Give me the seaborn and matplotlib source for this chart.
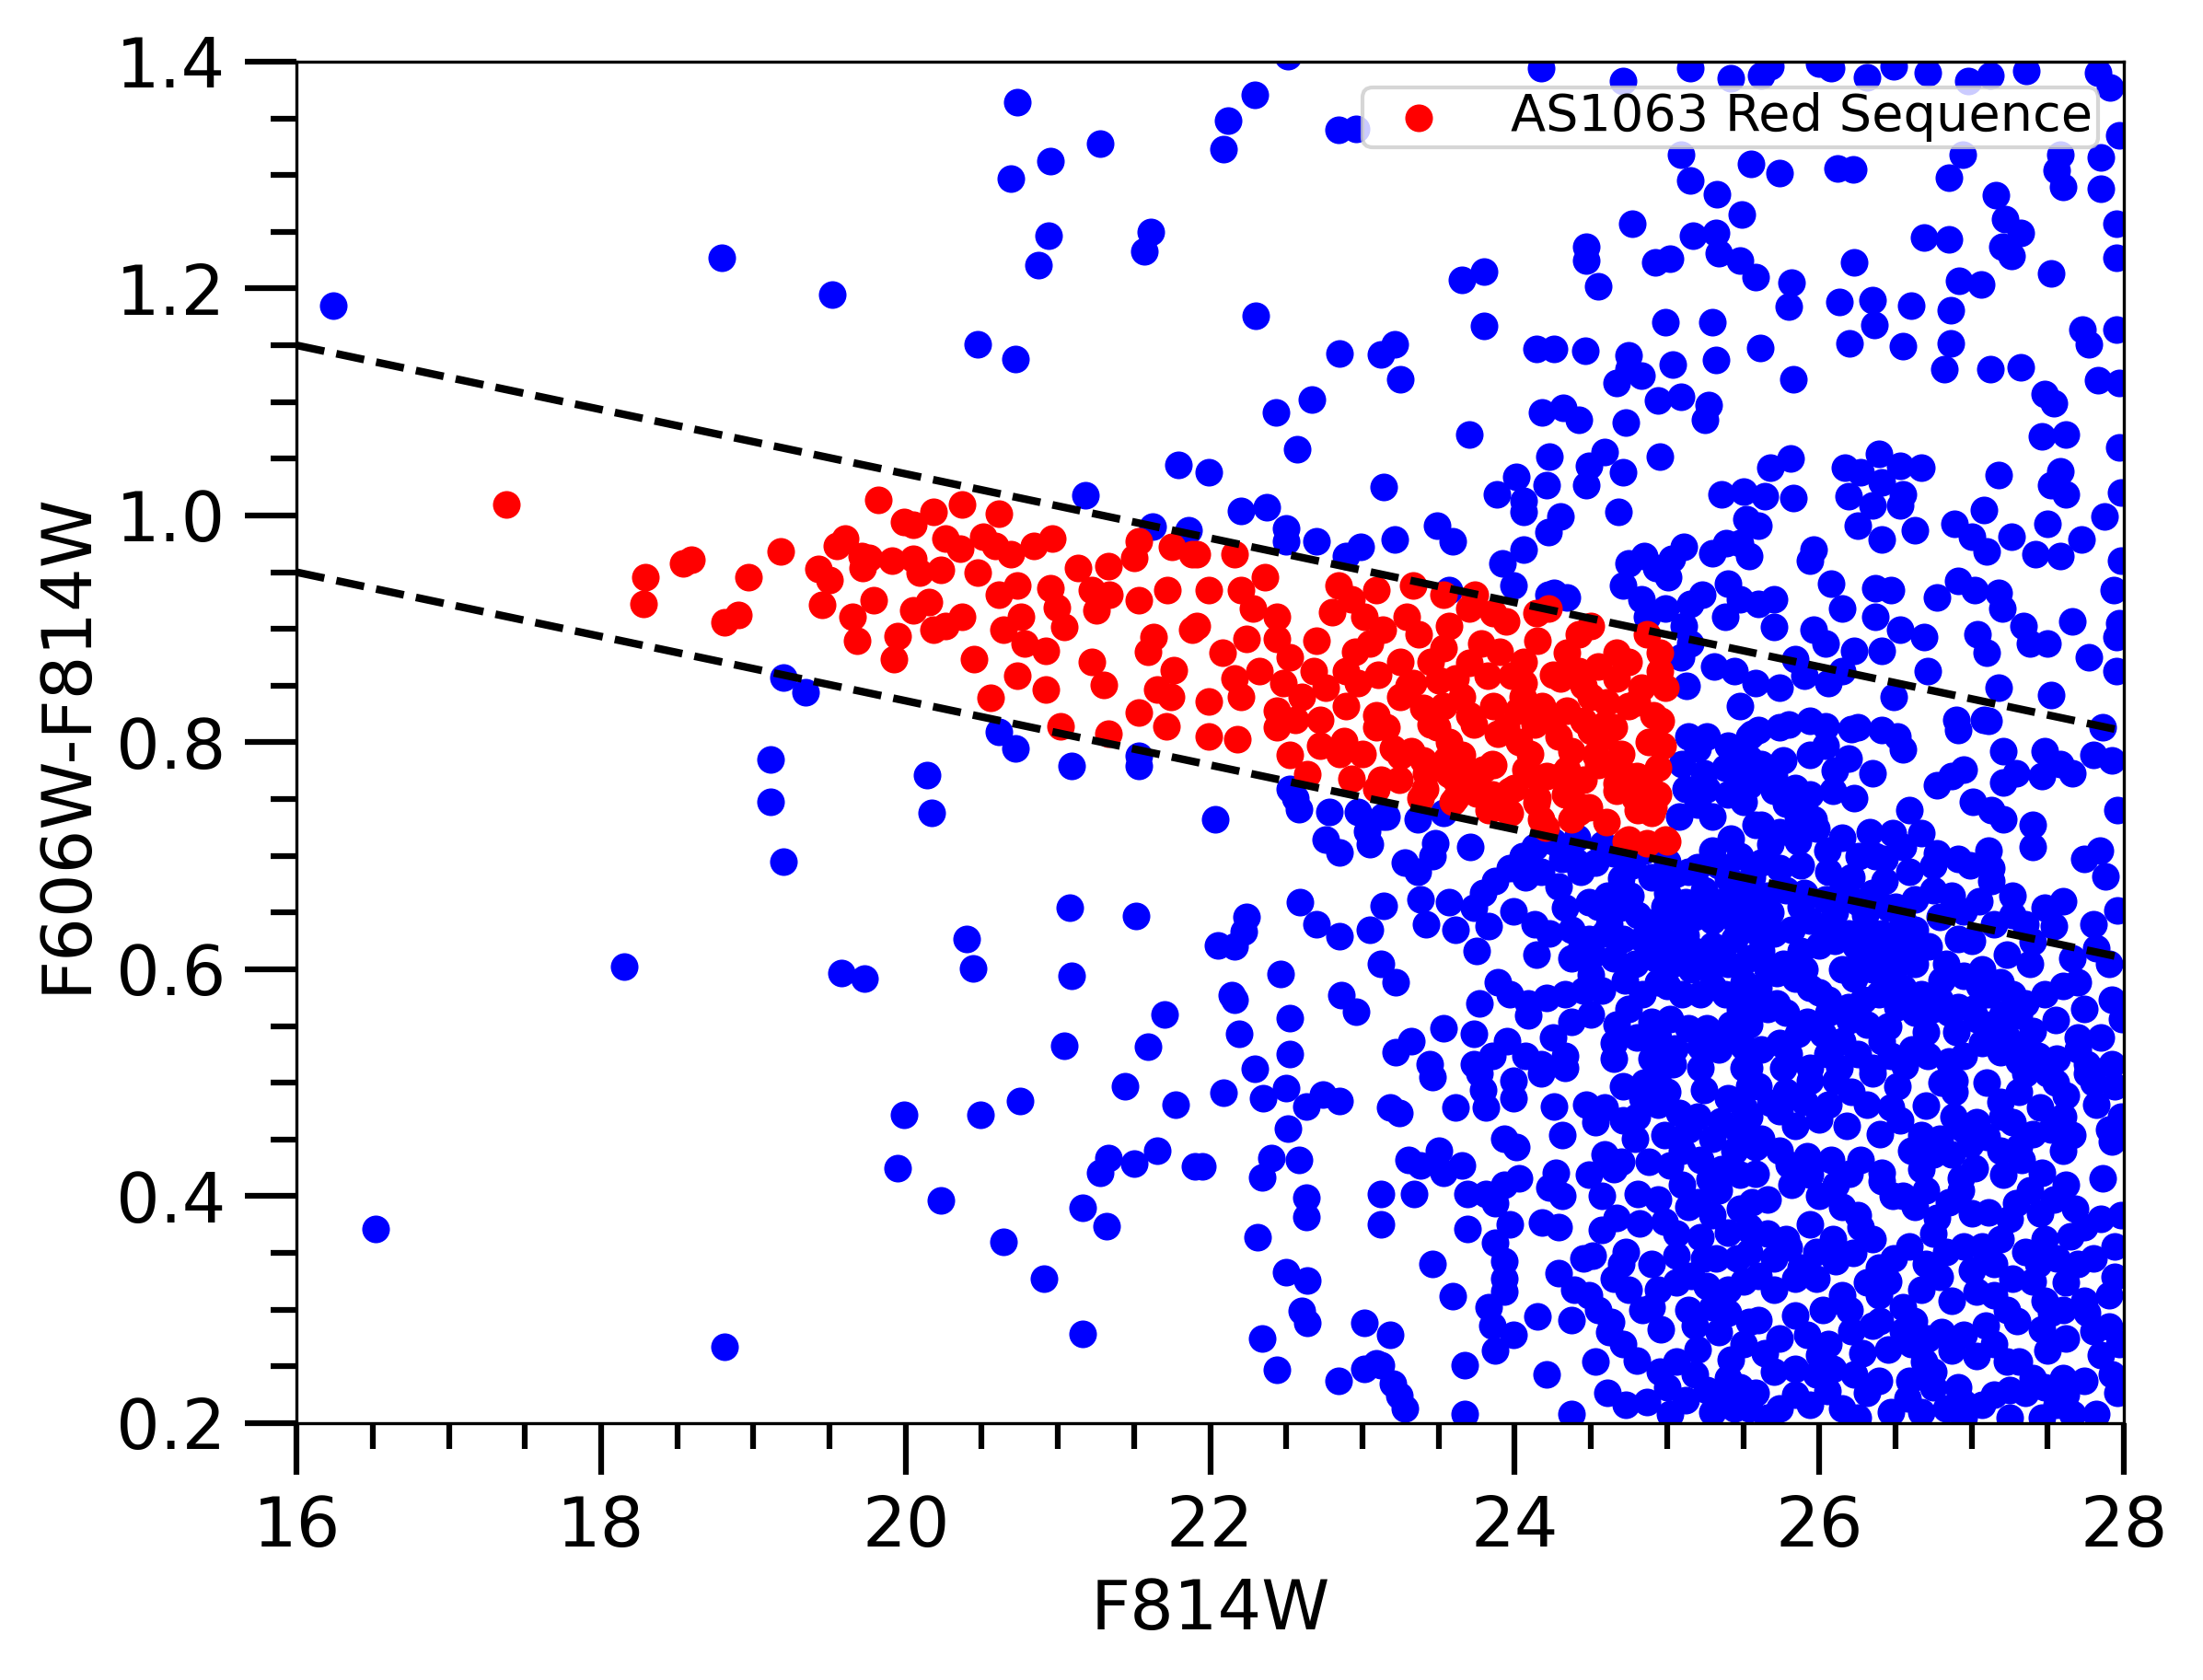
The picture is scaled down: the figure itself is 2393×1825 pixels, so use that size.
import matplotlib
matplotlib.use("Agg")
import matplotlib.pyplot as plt
import seaborn as sns
import pandas as pd
from matplotlib.ticker import MultipleLocator

# ---------------- data (F814W magnitude, F606W-F814W colour) ----------------
# field galaxies, bright / sparse part (F814W < 22)
blue_bright = [
    (16.24, 1.185), (16.52, 0.371), (18.15, 0.602), (18.79, 1.227), (18.81, 0.267),
    (19.20, 0.857), (19.34, 0.844), (19.11, 0.785), (19.11, 0.748), (19.20, 0.695),
    (19.52, 1.195), (19.58, 0.597), (19.73, 0.592), (20.14, 0.771), (20.17, 0.738),
    (20.40, 0.627), (20.44, 0.601), (19.99, 0.472), (20.49, 0.472), (19.95, 0.425),
    (20.23, 0.396), (20.75, 0.484), (20.64, 0.360), (20.91, 0.327), (21.16, 0.279),
    (21.08, 0.654), (21.09, 0.594), (21.04, 0.533), (21.51, 0.647), (21.70, 0.560),
    (21.59, 0.532), (21.44, 0.497), (21.77, 0.481), (21.33, 0.434), (21.28, 0.421),
    (21.50, 0.429), (21.65, 0.440), (21.16, 0.390), (21.32, 0.374), (21.90, 0.426),
    (20.61, 0.809), (20.72, 0.795), (21.09, 0.779), (21.53, 0.788), (21.53, 0.779),
    (20.73, 1.364), (21.28, 1.328), (20.95, 1.312), (20.69, 1.297), (20.94, 1.247),
    (21.61, 1.250), (21.57, 1.233), (20.87, 1.221), (20.47, 1.151), (20.72, 1.138),
    (21.79, 1.045), (21.18, 1.018), (21.62, 0.990), (21.86, 0.987),
]

# field galaxies, 21.9 < F814W < 23.1, below the red sequence
blue_mid = [
    (22.03, 0.732), (22.59, 0.659), (22.24, 0.646), (22.22, 0.633), (22.05, 0.621),
    (22.16, 0.620), (22.70, 0.640), (22.85, 0.629), (23.05, 0.635), (22.46, 0.596),
    (22.14, 0.577), (22.16, 0.573), (22.52, 0.557), (22.86, 0.577), (22.96, 0.563),
    (22.19, 0.543), (22.29, 0.512), (22.52, 0.525), (22.09, 0.491), (22.35, 0.486),
    (22.50, 0.495), (22.63, 0.479), (22.74, 0.490), (22.85, 0.484), (22.51, 0.460),
    (22.40, 0.434), (22.34, 0.417), (22.58, 0.432), (21.95, 0.426), (22.63, 0.399),
    (22.63, 0.382), (22.31, 0.364), (22.50, 0.333), (22.64, 0.326), (22.60, 0.299),
    (22.64, 0.288), (22.34, 0.275), (22.44, 0.247), (22.84, 0.237), (23.01, 0.288),
    (23.01, 0.248), (23.09, 0.253), (23.05, 0.710), (23.03, 0.722), (22.76, 0.714),
    (22.85, 0.703), (22.78, 0.739), (22.56, 0.751), (22.58, 0.741), (22.52, 0.759),
    (22.97, 0.739), (23.13, 0.735),
]

# field galaxies above the red sequence (colour > 0.8, F814W > 21.9)
blue_upper = [
    (22.51, 1.405), (22.29, 1.371), (22.12, 1.348), (22.09, 1.323), (22.84, 1.340),
    (22.96, 1.341), (24.17, 1.394), (24.71, 1.383), (25.15, 1.394), (25.42, 1.385),
    (25.62, 1.388), (25.68, 1.396), (26.00, 1.398), (26.08, 1.394), (26.31, 1.386),
    (26.49, 1.396), (26.71, 1.390), (26.98, 1.383), (27.12, 1.388), (27.36, 1.392),
    (27.83, 1.390), (27.91, 1.377), (27.97, 1.335), (27.85, 1.316), (27.58, 1.318),
    (27.56, 1.304), (27.60, 1.290), (27.85, 1.288), (27.95, 1.257), (27.95, 1.227),
    (26.85, 1.298), (27.16, 1.282), (27.22, 1.261), (27.32, 1.249), (27.20, 1.237),
    (27.26, 1.229), (26.69, 1.245), (26.85, 1.243), (27.52, 1.213), (26.23, 1.223),
    (26.12, 1.306), (26.22, 1.305), (25.74, 1.302), (25.55, 1.310), (25.15, 1.295),
    (25.33, 1.283), (25.49, 1.265), (25.09, 1.318), (26.94, 1.318),
    (24.77, 1.257), (24.47, 1.237), (24.47, 1.225), (24.55, 1.202), (24.92, 1.223),
    (25.02, 1.226), (25.17, 1.247), (25.32, 1.249), (25.34, 1.231), (25.48, 1.225),
    (25.58, 1.210), (25.82, 1.205), (25.80, 1.184), (26.13, 1.188), (26.35, 1.190),
    (26.36, 1.168), (26.60, 1.185), (26.86, 1.181), (26.92, 1.207), (27.06, 1.204),
    (26.86, 1.152), (26.82, 1.129), (26.20, 1.152), (26.55, 1.149), (27.73, 1.164),
    (27.77, 1.151), (27.95, 1.164), (27.83, 1.119), (27.97, 1.117), (27.12, 1.129),
    (27.32, 1.131), (27.48, 1.107), (27.54, 1.099), (27.46, 1.070), (27.62, 1.071),
    (23.65, 1.208), (23.80, 1.215), (23.80, 1.167), (22.30, 1.176), (22.85, 1.143),
    (23.12, 1.142), (23.21, 1.151), (23.25, 1.120), (22.43, 1.091), (22.67, 1.102),
    (22.57, 1.058), (21.99, 1.038), (23.14, 1.025), (22.20, 1.004), (22.37, 1.007),
    (22.50, 0.989), (22.50, 0.977), (22.70, 0.977), (22.89, 0.964), (22.99, 0.972),
    (23.21, 0.979), (23.49, 0.991), (23.59, 0.977), (23.70, 1.071), (24.14, 1.147),
    (24.26, 1.147), (24.46, 1.145), (24.75, 1.141), (24.75, 1.129), (24.67, 1.117),
    (24.83, 1.123), (25.04, 1.133), (24.99, 1.170), (25.30, 1.170), (25.32, 1.137),
    (25.61, 1.148), (25.83, 1.120), (24.94, 1.101), (25.09, 1.105), (25.27, 1.097),
    (25.25, 1.084), (24.18, 1.091), (24.32, 1.095), (24.42, 1.084), (24.73, 1.082),
    (24.23, 1.052), (24.59, 1.056), (24.49, 1.044), (24.71, 1.038), (24.47, 1.027),
    (24.95, 1.052), (24.01, 1.034), (23.88, 1.019), (24.06, 1.013), (24.21, 1.027),
    (24.06, 1.003), (24.30, 0.999), (24.22, 0.985), (23.92, 0.958), (24.06, 0.970),
    (23.99, 0.938), (24.26, 0.932), (24.34, 0.928), (24.68, 1.003), (25.36, 1.019),
    (25.50, 1.021), (25.64, 1.017), (25.83, 1.015), (25.52, 0.997), (25.60, 0.991),
    (25.48, 0.976), (25.54, 0.964), (25.68, 1.042), (25.81, 1.050), (26.17, 1.042),
    (26.27, 1.038), (26.39, 1.054), (26.53, 1.044), (26.67, 1.042), (26.41, 1.029),
    (26.55, 1.019), (26.53, 1.009), (26.19, 1.017), (26.35, 1.009), (26.25, 0.991),
    (26.41, 0.979), (26.63, 0.987), (25.96, 0.970), (25.94, 0.960), (25.39, 0.976),
    (26.08, 0.940), (26.37, 0.936), (26.47, 0.934), (26.77, 0.928), (26.91, 0.942),
    (27.02, 0.934), (27.08, 1.005), (26.89, 0.993), (27.00, 0.981), (27.10, 0.968),
    (27.18, 1.036), (27.26, 0.981), (27.42, 0.966), (27.58, 0.964), (27.50, 0.993),
    (27.72, 0.979), (27.87, 0.999), (27.62, 1.019), (27.52, 1.027), (27.58, 1.039),
    (27.18, 0.932), (27.20, 0.918), (27.04, 0.895), (27.10, 0.879), (27.34, 0.903),
    (27.38, 0.887), (27.50, 0.887), (27.66, 0.907), (27.77, 0.875), (27.93, 0.934),
    (27.95, 0.893), (27.95, 0.863), (27.52, 0.842), (27.18, 0.848), (27.08, 0.820),
    (26.90, 0.820), (26.71, 0.863), (26.69, 0.893), (26.53, 0.899), (26.41, 0.881),
    (26.23, 0.881), (26.04, 0.887), (25.96, 0.899), (26.15, 0.918), (26.37, 0.911),
    (25.70, 0.926), (25.60, 0.922), (25.70, 0.902), (26.15, 0.863), (26.06, 0.852),
    (25.84, 0.873), (25.90, 0.859), (25.74, 0.848), (25.58, 0.852), (25.44, 0.863),
    (25.31, 0.867), (25.48, 0.832), (25.56, 0.808), (25.38, 0.911), (25.48, 0.926),
    (25.40, 0.940), (25.30, 0.967), (25.23, 0.930), (25.15, 0.922), (25.03, 0.962),
    (25.11, 0.972), (24.85, 0.964), (24.93, 0.954), (24.75, 0.958), (25.01, 0.946),
    (24.71, 0.938), (24.83, 0.926), (24.87, 0.911), (24.99, 0.918), (25.11, 0.903),
    (25.15, 0.887), (25.09, 0.875), (25.13, 0.850), (25.80, 0.816), (26.04, 0.814),
    (26.21, 0.812), (26.49, 0.840), (24.22, 0.930), (23.57, 0.934), (27.98, 0.960),
    (27.97, 0.905), (27.98, 1.020), (27.97, 1.060),
]

# field galaxies, 23.1 < F814W < 25.6, 0.51 < colour < 0.82
blue_core_a = [
    (25.14, 0.805), (25.26, 0.805), (25.40, 0.797), (25.54, 0.805), (25.54, 0.786),
    (25.10, 0.781), (25.24, 0.773), (25.38, 0.778), (25.52, 0.767), (25.12, 0.759),
    (25.26, 0.759), (25.40, 0.754), (25.50, 0.748), (25.30, 0.735), (25.58, 0.727),
    (25.08, 0.735), (23.16, 0.735), (23.36, 0.732), (23.53, 0.738), (23.71, 0.708),
    (23.48, 0.711), (23.28, 0.694), (23.36, 0.686), (23.46, 0.700), (23.38, 0.662),
    (23.14, 0.656), (23.42, 0.640), (23.61, 0.635), (23.57, 0.659), (23.73, 0.654),
    (23.83, 0.638), (23.79, 0.667), (23.87, 0.678), (23.97, 0.689), (24.05, 0.700),
    (24.13, 0.708), (24.25, 0.713), (24.41, 0.716), (24.31, 0.697), (24.17, 0.686),
    (24.07, 0.681), (24.29, 0.673), (24.43, 0.686), (24.53, 0.694), (24.65, 0.702),
    (24.77, 0.692), (24.90, 0.681), (25.00, 0.667), (25.12, 0.659), (25.24, 0.670),
    (25.34, 0.659), (25.46, 0.670), (25.56, 0.681), (25.34, 0.692), (25.30, 0.705),
    (25.48, 0.700), (25.14, 0.686), (25.06, 0.684), (24.33, 0.654), (24.49, 0.659),
    (24.61, 0.665), (24.69, 0.654), (24.81, 0.648), (24.94, 0.643), (25.06, 0.646),
    (25.18, 0.646), (25.30, 0.643), (25.42, 0.648), (25.54, 0.646), (25.60, 0.632),
    (23.99, 0.651), (24.13, 0.640), (24.23, 0.632), (24.37, 0.635), (24.49, 0.627),
    (24.59, 0.632), (24.71, 0.627), (24.84, 0.627), (24.96, 0.629), (25.06, 0.621),
    (25.18, 0.616), (25.30, 0.621), (25.44, 0.627), (25.54, 0.610), (24.37, 0.610),
    (24.51, 0.613), (24.65, 0.610), (24.79, 0.605), (24.92, 0.610), (25.04, 0.605),
    (25.16, 0.600), (25.28, 0.600), (25.40, 0.605), (25.50, 0.589), (25.38, 0.578),
    (25.22, 0.578), (25.10, 0.578), (24.94, 0.589), (24.84, 0.578), (24.14, 0.613),
    (23.75, 0.616), (23.12, 0.605), (23.22, 0.589), (23.89, 0.589), (23.97, 0.578),
    (23.77, 0.570), (24.09, 0.570), (24.21, 0.575), (24.33, 0.578), (24.45, 0.581),
    (24.57, 0.581), (24.09, 0.559), (24.37, 0.554), (24.67, 0.551), (24.90, 0.554),
    (25.02, 0.556), (25.14, 0.548), (25.26, 0.548), (25.42, 0.551), (25.54, 0.551),
    (25.22, 0.532), (25.34, 0.529), (25.50, 0.532), (24.94, 0.540), (24.90, 0.521),
    (24.65, 0.535), (24.65, 0.521), (24.33, 0.524), (24.17, 0.516), (24.25, 0.540),
    (24.07, 0.524), (23.95, 0.537), (23.85, 0.524), (23.73, 0.543), (23.53, 0.548),
    (23.32, 0.537), (23.22, 0.527), (23.44, 0.516), (23.73, 0.516), (25.04, 0.516),
    (25.22, 0.513), (25.50, 0.513),
    (24.40, 0.695), (24.58, 0.710), (24.70, 0.680), (24.85, 0.705), (25.00, 0.695),
    (25.20, 0.690), (25.40, 0.680), (24.55, 0.655), (24.76, 0.665), (24.98, 0.655),
    (25.24, 0.655), (25.46, 0.640), (24.44, 0.620), (24.62, 0.640), (24.88, 0.615),
    (25.12, 0.630), (25.36, 0.610), (24.50, 0.595), (24.72, 0.590), (25.00, 0.585),
    (25.30, 0.585), (25.48, 0.565), (24.75, 0.565), (24.50, 0.560), (25.05, 0.530),
    (25.40, 0.540), (24.80, 0.540), (25.20, 0.795), (25.48, 0.785), (25.45, 0.760),
    (25.20, 0.745), (25.42, 0.715),
]

# field galaxies, 25.5 < F814W < 28, 0.51 < colour < 0.82
blue_core_b = [
    (25.60, 0.811), (25.74, 0.813), (25.94, 0.819), (26.25, 0.813), (26.41, 0.811),
    (26.51, 0.805), (26.55, 0.794), (26.91, 0.811), (27.11, 0.819), (25.62, 0.781),
    (25.76, 0.784), (25.94, 0.789), (26.04, 0.797), (26.19, 0.786), (26.35, 0.773),
    (25.54, 0.762), (25.70, 0.757), (25.78, 0.746), (25.94, 0.754), (26.09, 0.757),
    (26.23, 0.751), (25.96, 0.732), (25.62, 0.727), (25.74, 0.721), (25.86, 0.713),
    (25.98, 0.724), (26.15, 0.716), (26.33, 0.721), (26.59, 0.740), (26.67, 0.720),
    (26.55, 0.708), (26.43, 0.697), (26.77, 0.702), (26.91, 0.697), (26.99, 0.692),
    (27.11, 0.705), (27.13, 0.689), (27.13, 0.678), (26.95, 0.776), (26.77, 0.762),
    (26.87, 0.770), (27.01, 0.748), (27.13, 0.740), (27.21, 0.792), (27.21, 0.765),
    (27.29, 0.773), (27.21, 0.732), (27.40, 0.727), (27.40, 0.708), (27.48, 0.792),
    (27.46, 0.770), (27.58, 0.781), (27.66, 0.773), (27.80, 0.789), (27.92, 0.784),
    (27.86, 0.813), (27.74, 0.697), (27.84, 0.705), (27.88, 0.682), (27.96, 0.652),
    (27.96, 0.740), (25.62, 0.694), (25.74, 0.689), (25.88, 0.692), (26.06, 0.686),
    (26.21, 0.681), (26.37, 0.700), (26.43, 0.678), (26.59, 0.686), (26.63, 0.662),
    (26.75, 0.692), (26.87, 0.665), (26.95, 0.651), (26.79, 0.646), (26.91, 0.627),
    (27.27, 0.665), (27.27, 0.648), (27.48, 0.654), (27.54, 0.638), (27.40, 0.624),
    (27.23, 0.613), (27.38, 0.605), (27.66, 0.610), (27.82, 0.619), (27.90, 0.605),
    (27.70, 0.589), (27.48, 0.578), (27.74, 0.565), (27.92, 0.573), (27.99, 0.556),
    (25.54, 0.659), (25.66, 0.665), (25.78, 0.670), (25.90, 0.667), (26.04, 0.662),
    (26.15, 0.670), (26.25, 0.659), (26.35, 0.667), (26.45, 0.654), (26.55, 0.643),
    (26.63, 0.635), (25.58, 0.638), (25.70, 0.632), (25.82, 0.635), (25.94, 0.643),
    (26.06, 0.638), (26.19, 0.632), (26.31, 0.635), (26.41, 0.632), (26.51, 0.627),
    (26.61, 0.616), (25.62, 0.616), (25.76, 0.605), (25.88, 0.616), (26.00, 0.621),
    (26.15, 0.600), (26.29, 0.610), (26.39, 0.616), (26.51, 0.605), (26.63, 0.605),
    (26.83, 0.605), (26.95, 0.594), (27.07, 0.600), (27.19, 0.589), (27.27, 0.578),
    (27.11, 0.578), (27.01, 0.565), (26.91, 0.567), (26.79, 0.573), (26.67, 0.578),
    (26.55, 0.584), (26.43, 0.589), (26.35, 0.600), (26.23, 0.592), (26.06, 0.573),
    (25.94, 0.584), (25.84, 0.592), (25.72, 0.597), (25.60, 0.584), (25.54, 0.570),
    (25.66, 0.565), (25.78, 0.562), (25.92, 0.554), (26.06, 0.562), (26.19, 0.567),
    (26.29, 0.573), (26.39, 0.578), (26.51, 0.567), (26.63, 0.562), (26.75, 0.565),
    (26.85, 0.562), (27.03, 0.556), (27.13, 0.551), (27.23, 0.540), (27.31, 0.559),
    (27.35, 0.529), (27.40, 0.546), (27.31, 0.519), (27.44, 0.524), (27.56, 0.521),
    (27.70, 0.529), (27.76, 0.516), (27.92, 0.516), (27.19, 0.527), (27.07, 0.535),
    (26.95, 0.524), (26.85, 0.519), (26.71, 0.524), (26.61, 0.529), (26.47, 0.524),
    (26.35, 0.513), (26.41, 0.537), (26.31, 0.551), (26.15, 0.537), (26.02, 0.543),
    (25.86, 0.543), (25.74, 0.535), (25.62, 0.529), (25.54, 0.513), (25.76, 0.513),
    (25.94, 0.513), (26.13, 0.513),
    (25.68, 0.650), (25.88, 0.655), (26.10, 0.650), (26.30, 0.648), (26.50, 0.655),
    (25.66, 0.600), (25.90, 0.600), (26.10, 0.625), (26.24, 0.620), (26.45, 0.600),
    (26.72, 0.620), (25.72, 0.570), (26.00, 0.580), (26.20, 0.555), (26.45, 0.550),
    (26.70, 0.545), (26.90, 0.545), (25.80, 0.525), (26.05, 0.525), (26.25, 0.525),
    (26.56, 0.515), (25.68, 0.710), (25.86, 0.735), (26.05, 0.705), (26.26, 0.700),
    (26.48, 0.720), (25.70, 0.770), (26.10, 0.775), (25.84, 0.760),
    (27.05, 0.585), (27.35, 0.570), (27.55, 0.555), (27.60, 0.585), (27.20, 0.560),
    (26.80, 0.590), (27.00, 0.625), (27.15, 0.640), (27.35, 0.640), (27.60, 0.660),
    (27.80, 0.640), (27.70, 0.540), (27.85, 0.540), (26.75, 0.670), (27.05, 0.660),
]

# field galaxies, 23.1 < F814W < 25.6, colour < 0.51
blue_faint_a = [
    (23.46, 0.505), (23.77, 0.508), (23.99, 0.502), (24.17, 0.508), (24.33, 0.513),
    (23.18, 0.478), (23.24, 0.473), (23.61, 0.478), (23.79, 0.494), (23.81, 0.478),
    (23.99, 0.486), (24.26, 0.479), (24.31, 0.454), (23.93, 0.451), (24.01, 0.443),
    (24.47, 0.481), (24.53, 0.465), (24.59, 0.478), (24.71, 0.497), (24.71, 0.467),
    (24.84, 0.486), (24.94, 0.508), (24.94, 0.481), (25.08, 0.473), (25.24, 0.494),
    (25.40, 0.486), (25.54, 0.497), (25.46, 0.459), (25.30, 0.451), (25.14, 0.459),
    (24.98, 0.454), (24.79, 0.451), (24.59, 0.437), (25.02, 0.427), (25.22, 0.432),
    (25.36, 0.424), (25.48, 0.419), (25.58, 0.443), (23.30, 0.432), (23.50, 0.440),
    (23.65, 0.427), (23.53, 0.421), (23.38, 0.427), (23.12, 0.402), (23.34, 0.402),
    (23.69, 0.402), (23.81, 0.402), (23.93, 0.410), (24.03, 0.416), (23.87, 0.394),
    (24.27, 0.421), (24.23, 0.408), (24.31, 0.400), (24.49, 0.419), (24.57, 0.400),
    (24.65, 0.424), (24.81, 0.402), (24.94, 0.397), (24.98, 0.378), (25.14, 0.391),
    (25.30, 0.383), (25.48, 0.389), (25.34, 0.405), (25.54, 0.370), (23.12, 0.375),
    (23.69, 0.371), (23.97, 0.375), (23.87, 0.359), (23.93, 0.343), (23.93, 0.327),
    (23.93, 0.316), (23.83, 0.302), (23.85, 0.286), (23.99, 0.278), (23.87, 0.264),
    (23.46, 0.340), (23.59, 0.312), (24.18, 0.377), (24.29, 0.373), (24.57, 0.370),
    (24.67, 0.381), (24.73, 0.351), (24.51, 0.348), (24.29, 0.332), (24.39, 0.318),
    (24.49, 0.313), (24.37, 0.291), (24.15, 0.294), (24.65, 0.327), (24.75, 0.318),
    (24.63, 0.289), (24.71, 0.270), (24.90, 0.340), (24.94, 0.318), (24.90, 0.302),
    (24.96, 0.283), (25.06, 0.324), (25.14, 0.300), (25.18, 0.286), (25.26, 0.321),
    (25.30, 0.302), (25.40, 0.297), (25.40, 0.318), (25.46, 0.345), (25.24, 0.345),
    (25.06, 0.348), (25.06, 0.367), (25.22, 0.364), (25.60, 0.291), (23.18, 0.278),
    (23.12, 0.251), (23.20, 0.235), (23.24, 0.224), (23.28, 0.213), (23.67, 0.251),
    (23.67, 0.208), (24.21, 0.243), (24.37, 0.208), (24.53, 0.254), (24.61, 0.227),
    (24.73, 0.216), (24.87, 0.219), (25.02, 0.208), (25.06, 0.254), (25.00, 0.232),
    (25.18, 0.243), (25.26, 0.229), (25.42, 0.256), (25.40, 0.240), (25.48, 0.232),
    (25.34, 0.227), (25.44, 0.213), (25.54, 0.213),
    (24.80, 0.470), (25.00, 0.492), (25.20, 0.470), (25.35, 0.466), (25.50, 0.478),
    (24.88, 0.430), (25.10, 0.440), (25.28, 0.415), (25.44, 0.440), (25.10, 0.410),
    (25.20, 0.395), (25.40, 0.368), (25.32, 0.345), (25.16, 0.330), (25.50, 0.325),
    (25.56, 0.395), (24.82, 0.376), (24.84, 0.300), (25.34, 0.280), (25.50, 0.270),
    (25.20, 0.265), (24.95, 0.245), (25.12, 0.220), (25.30, 0.210),
    (24.85, 0.500), (24.70, 0.430), (24.70, 0.340), (24.55, 0.300), (24.45, 0.345),
    (24.80, 0.255), (24.62, 0.280),
]

# field galaxies, 25.5 < F814W < 28, colour < 0.51
blue_faint_b = [
    (25.60, 0.497), (25.78, 0.492), (25.94, 0.502), (26.11, 0.502), (26.35, 0.508),
    (26.51, 0.497), (26.89, 0.502), (26.89, 0.492), (27.35, 0.508), (27.50, 0.508),
    (27.76, 0.508), (27.94, 0.497), (25.54, 0.470), (25.74, 0.475), (25.90, 0.483),
    (26.06, 0.481), (26.21, 0.492), (26.31, 0.481), (26.47, 0.478), (26.53, 0.467),
    (26.67, 0.454), (26.79, 0.451), (26.95, 0.459), (27.03, 0.465), (27.19, 0.483),
    (27.27, 0.465), (27.31, 0.492), (27.62, 0.489), (27.82, 0.481), (27.90, 0.459),
    (27.92, 0.448), (27.52, 0.459), (27.66, 0.454), (25.62, 0.451), (25.74, 0.440),
    (25.92, 0.435), (26.08, 0.432), (26.27, 0.432), (26.41, 0.421), (26.67, 0.424),
    (26.75, 0.437), (26.87, 0.437), (26.99, 0.446), (27.19, 0.440), (27.31, 0.443),
    (27.33, 0.432), (25.66, 0.397), (25.82, 0.410), (25.94, 0.419), (26.11, 0.410),
    (26.15, 0.391), (26.25, 0.383), (26.41, 0.413), (26.55, 0.400), (26.63, 0.391),
    (26.77, 0.381), (26.93, 0.405), (26.93, 0.416), (27.11, 0.386), (27.21, 0.419),
    (27.29, 0.394), (27.46, 0.421), (27.54, 0.397), (27.68, 0.389), (27.74, 0.373),
    (27.86, 0.416), (27.98, 0.383), (25.54, 0.373), (25.66, 0.367), (25.78, 0.362),
    (25.94, 0.375), (25.98, 0.351), (26.11, 0.343), (25.88, 0.337), (25.70, 0.345),
    (25.54, 0.351), (26.09, 0.362), (26.27, 0.373), (26.35, 0.362), (26.39, 0.337),
    (26.49, 0.345), (26.59, 0.356), (26.75, 0.367), (26.83, 0.351), (26.95, 0.356),
    (27.07, 0.356), (27.19, 0.362), (27.35, 0.351), (27.48, 0.362), (27.56, 0.345),
    (27.62, 0.324), (27.44, 0.340), (27.27, 0.327), (27.94, 0.356), (27.94, 0.329),
    (27.90, 0.313), (25.70, 0.318), (25.84, 0.327), (25.98, 0.327), (26.15, 0.313),
    (26.31, 0.324), (26.39, 0.313), (26.55, 0.302), (26.67, 0.318), (26.79, 0.329),
    (26.87, 0.308), (27.03, 0.316), (27.15, 0.313), (27.23, 0.300), (27.09, 0.286),
    (27.48, 0.308), (27.52, 0.297), (27.74, 0.308), (27.76, 0.297), (27.80, 0.281),
    (27.46, 0.283), (27.50, 0.264), (25.54, 0.289), (25.74, 0.275), (25.92, 0.278),
    (26.06, 0.270), (26.21, 0.281), (26.35, 0.286), (26.55, 0.281), (26.71, 0.275),
    (26.69, 0.254), (26.75, 0.245), (26.87, 0.264), (26.95, 0.278), (27.03, 0.259),
    (27.23, 0.254), (27.31, 0.254), (27.62, 0.275), (27.74, 0.237), (27.92, 0.243),
    (25.70, 0.245), (25.84, 0.248), (25.98, 0.243), (26.09, 0.248), (26.23, 0.243),
    (26.39, 0.237), (26.31, 0.227), (26.59, 0.237), (26.75, 0.232), (26.91, 0.232),
    (27.07, 0.216), (26.95, 0.218), (27.25, 0.229), (27.35, 0.227), (27.48, 0.232),
    (27.56, 0.216), (27.66, 0.208), (27.96, 0.227), (25.58, 0.227), (25.74, 0.213),
    (25.94, 0.216), (26.15, 0.213), (26.47, 0.210), (26.67, 0.210), (26.83, 0.213),
    (27.25, 0.205), (27.46, 0.205), (27.82, 0.208), (27.98, 0.470), (27.97, 0.270),
    (25.68, 0.482), (25.84, 0.462), (26.00, 0.468), (26.18, 0.462), (26.40, 0.455),
    (26.60, 0.440), (26.88, 0.470), (27.10, 0.452), (27.45, 0.478), (27.60, 0.470),
    (27.80, 0.500), (25.58, 0.420), (25.80, 0.428), (26.00, 0.400), (26.20, 0.420),
    (26.48, 0.400), (26.85, 0.395), (27.02, 0.425), (27.38, 0.405), (27.62, 0.410),
    (25.60, 0.330), (25.80, 0.355), (26.02, 0.300), (26.22, 0.350), (26.45, 0.325),
    (26.70, 0.340), (27.00, 0.335), (27.15, 0.340), (27.40, 0.325), (27.70, 0.340),
    (25.64, 0.262), (25.84, 0.295), (26.00, 0.260), (26.28, 0.262), (26.45, 0.265),
    (26.62, 0.290), (26.80, 0.280), (27.15, 0.270), (27.40, 0.240), (27.60, 0.240),
    (27.85, 0.260), (25.66, 0.205), (25.84, 0.225), (26.05, 0.228), (26.25, 0.205),
    (26.58, 0.222), (26.95, 0.205), (27.15, 0.225), (27.62, 0.225),
    (26.70, 0.480), (26.80, 0.500), (27.10, 0.500), (27.20, 0.470), (27.40, 0.455),
    (27.60, 0.440), (27.55, 0.500), (26.70, 0.405), (27.00, 0.385), (27.25, 0.380),
    (27.45, 0.385), (27.65, 0.365), (27.85, 0.380), (27.80, 0.345), (27.30, 0.290),
    (27.60, 0.300), (27.90, 0.285), (26.60, 0.270), (26.40, 0.290), (26.20, 0.300),
]

# AS1063 red-sequence members, bright end (F814W < 22)
red_bright = [
    (17.38, 1.010), (18.29, 0.946), (18.28, 0.922), (18.54, 0.958), (18.59, 0.961),
    (18.97, 0.946), (18.81, 0.906), (18.90, 0.912), (19.18, 0.968), (19.82, 1.014),
    (19.99, 0.994), (20.05, 0.992), (20.18, 1.003), (20.37, 1.010), (20.61, 1.002),
    (19.60, 0.980), (19.55, 0.973), (19.43, 0.953), (19.50, 0.943), (19.71, 0.964),
    (19.76, 0.963), (19.72, 0.954), (19.91, 0.960), (20.05, 0.962), (20.09, 0.950),
    (20.23, 0.952), (20.26, 0.980), (20.36, 0.971), (20.51, 0.981), (20.59, 0.973),
    (20.69, 0.966), (20.84, 0.973), (20.96, 0.980), (20.47, 0.950), (19.45, 0.921),
    (19.79, 0.925), (19.65, 0.911), (19.68, 0.890), (19.95, 0.894), (20.05, 0.916),
    (20.15, 0.924), (20.18, 0.899), (20.26, 0.903), (20.37, 0.911), (19.92, 0.873),
    (20.45, 0.873), (20.64, 0.899), (20.76, 0.911), (20.78, 0.887), (20.61, 0.930),
    (20.73, 0.938), (20.95, 0.936), (20.99, 0.919), (21.04, 0.902), (20.92, 0.881),
    (20.73, 0.859), (20.92, 0.847), (20.56, 0.839), (21.02, 0.814), (21.13, 0.954),
    (21.33, 0.955), (21.22, 0.934), (21.34, 0.930), (21.53, 0.925), (21.72, 0.934),
    (21.50, 0.963), (21.53, 0.977), (21.75, 0.972), (21.25, 0.916), (21.22, 0.871),
    (21.30, 0.851), (21.63, 0.893), (21.59, 0.880), (21.76, 0.864), (21.65, 0.847),
    (21.53, 0.826), (21.71, 0.814), (21.33, 0.808), (21.88, 0.899), (21.88, 0.966),
    (21.74, 0.840),
]

# AS1063 red-sequence members, faint end (F814W > 21.9)
red_faint = [
    (21.91, 0.966), (22.16, 0.966), (22.36, 0.946), (21.99, 0.934), (22.20, 0.934),
    (22.28, 0.918), (21.91, 0.903), (22.08, 0.879), (22.16, 0.856), (21.99, 0.836),
    (22.24, 0.891), (22.44, 0.911), (22.44, 0.891), (22.52, 0.875), (22.32, 0.863),
    (22.20, 0.840), (22.48, 0.852), (22.44, 0.828), (22.56, 0.820), (22.68, 0.863),
    (22.76, 0.848), (22.89, 0.863), (22.97, 0.852), (22.84, 0.938), (22.93, 0.926),
    (22.80, 0.915), (23.01, 0.911), (23.09, 0.934), (23.13, 0.899), (23.05, 0.887),
    (23.33, 0.938), (23.29, 0.911), (23.37, 0.895), (23.25, 0.871), (23.33, 0.852),
    (23.45, 0.871), (23.53, 0.930), (23.57, 0.903), (23.53, 0.883), (23.61, 0.856),
    (23.70, 0.918), (23.74, 0.930), (23.78, 0.887), (23.86, 0.914), (23.94, 0.907),
    (23.82, 0.859), (23.98, 0.859), (24.06, 0.871), (24.06, 0.852), (24.14, 0.914),
    (24.22, 0.918), (24.42, 0.895), (24.50, 0.903), (24.34, 0.879), (24.42, 0.863),
    (24.30, 0.856), (24.55, 0.867), (24.67, 0.879), (24.75, 0.871), (24.87, 0.895),
    (24.95, 0.879), (24.95, 0.863), (24.99, 0.848), (24.83, 0.848), (24.67, 0.856),
    (24.50, 0.840), (24.75, 0.832), (24.91, 0.824), (24.34, 0.828), (24.18, 0.832),
    (24.02, 0.828), (23.86, 0.832), (23.70, 0.824), (23.53, 0.832), (23.45, 0.816),
    (23.09, 0.824), (22.89, 0.832), (22.72, 0.820), (24.59, 0.816),
    (23.16, 0.813), (23.12, 0.767), (23.24, 0.767), (23.32, 0.792), (23.42, 0.773),
    (23.40, 0.784), (23.38, 0.751), (23.59, 0.748), (23.61, 0.767), (23.57, 0.800),
    (23.46, 0.822), (23.73, 0.816), (23.65, 0.789), (23.79, 0.776), (23.85, 0.781),
    (23.85, 0.754), (23.83, 0.740), (23.97, 0.757), (23.97, 0.738), (23.89, 0.808),
    (24.03, 0.800), (24.07, 0.776), (24.15, 0.751), (24.17, 0.732), (24.21, 0.770),
    (24.13, 0.816), (24.29, 0.805), (24.37, 0.792), (24.33, 0.754), (24.37, 0.732),
    (24.45, 0.767), (24.49, 0.743), (24.53, 0.789), (24.59, 0.805), (24.65, 0.813),
    (24.67, 0.757), (24.69, 0.776), (24.79, 0.751), (24.81, 0.740), (24.90, 0.738),
    (24.94, 0.754), (24.94, 0.778), (24.96, 0.797), (24.96, 0.819), (24.73, 0.713),
    (24.87, 0.711), (25.00, 0.713), (24.45, 0.819), (23.20, 0.795),
    (21.99, 0.805), (22.18, 0.803), (22.44, 0.813), (22.52, 0.789), (22.64, 0.772),
    (22.72, 0.797), (22.88, 0.801), (22.93, 0.768), (23.09, 0.759), (23.09, 0.813),
    (23.25, 0.788), (23.41, 0.759), (23.49, 0.813), (23.57, 0.772), (23.61, 0.751),
    (23.86, 0.780), (23.90, 0.743), (24.10, 0.772), (24.14, 0.747), (24.34, 0.776),
    (24.42, 0.739), (24.67, 0.764), (24.75, 0.714), (24.99, 0.714), (24.91, 0.743),
    (24.97, 0.797), (23.94, 0.813),
    (23.30, 0.850), (23.50, 0.855), (23.70, 0.870), (23.90, 0.880), (24.15, 0.890),
    (24.25, 0.860), (24.45, 0.850), (24.60, 0.835), (24.80, 0.835), (24.88, 0.800),
    (24.70, 0.790), (24.50, 0.810), (24.25, 0.820), (24.05, 0.840), (23.65, 0.840),
    (23.40, 0.830), (23.25, 0.840), (23.10, 0.860), (22.95, 0.880), (22.70, 0.890),
    (22.60, 0.840), (22.85, 0.790), (23.00, 0.790), (23.70, 0.770), (24.00, 0.760),
    (24.30, 0.770), (24.55, 0.780), (24.80, 0.770), (24.60, 0.730), (24.85, 0.760),
    (23.55, 0.785), (24.10, 0.790), (24.40, 0.745), (23.75, 0.755), (24.20, 0.725),
]

# red-sequence selection cuts
cut_mag = [16, 28]
upper_cut = [1.15, 0.81]
lower_cut = [0.95, 0.61]

x_ticks = [16, 18, 20, 22, 24, 26, 28]
y_ticks = [0.2, 0.4, 0.6, 0.8, 1.0, 1.2, 1.4]

# ---------------- tables ----------------
cols = ["F814W", "F606W-F814W"]
blue_df = pd.DataFrame(blue_bright + blue_mid + blue_upper + blue_core_a
                       + blue_core_b + blue_faint_a + blue_faint_b, columns=cols)
red_df = pd.DataFrame(red_bright + red_faint, columns=cols)

# ---------------- style ----------------
sns.set_style("ticks", {"axes.edgecolor": "black", "xtick.color": "black",
                        "ytick.color": "black", "axes.labelcolor": "black",
                        "text.color": "black", "axes.linewidth": 0.8})
plt.rcParams["font.family"] = ["DejaVu Sans"]

fig = plt.figure(figsize=(2393 / 300, 1825 / 300), dpi=300)
ax = fig.add_axes([0.1346, 0.1529, 0.8295, 0.8104])

sns.scatterplot(data=blue_df, x="F814W", y="F606W-F814W", color="#0000ff",
                s=52, linewidth=0, ax=ax, zorder=2)
sns.scatterplot(data=red_df, x="F814W", y="F606W-F814W", color="#ff0000",
                s=52, linewidth=0, ax=ax, zorder=3, label="AS1063 Red Sequence")

ax.plot(cut_mag, upper_cut, linestyle="--", color="black", lw=2, zorder=4)
ax.plot(cut_mag, lower_cut, linestyle="--", color="black", lw=2, zorder=4)

ax.set_xlim(16, 28)
ax.set_ylim(0.2, 1.4)
ax.set_xticks(x_ticks)
ax.set_yticks(y_ticks)
ax.set_xticklabels([str(v) for v in x_ticks])
ax.set_yticklabels([f"{v:.1f}" for v in y_ticks])
ax.xaxis.set_minor_locator(MultipleLocator(0.5))
ax.yaxis.set_minor_locator(MultipleLocator(0.05))
ax.tick_params(which="major", direction="out", length=13.5, width=1.5,
               labelsize=18, pad=5, colors="black")
ax.tick_params(which="minor", direction="out", length=6.7, width=1.5, colors="black")
for sp in ax.spines.values():
    sp.set_visible(True)
    sp.set_linewidth(0.8)
    sp.set_color("black")

ax.set_xlabel("F814W", fontsize=18, color="black")
ax.set_ylabel("F606W-F814W", fontsize=18, color="black")

leg = ax.legend(loc="upper right", fontsize=13.4, frameon=True, borderpad=0.1)
for t in leg.get_texts():
    t.set_color("black")

fig.savefig("out.png", dpi=300)
